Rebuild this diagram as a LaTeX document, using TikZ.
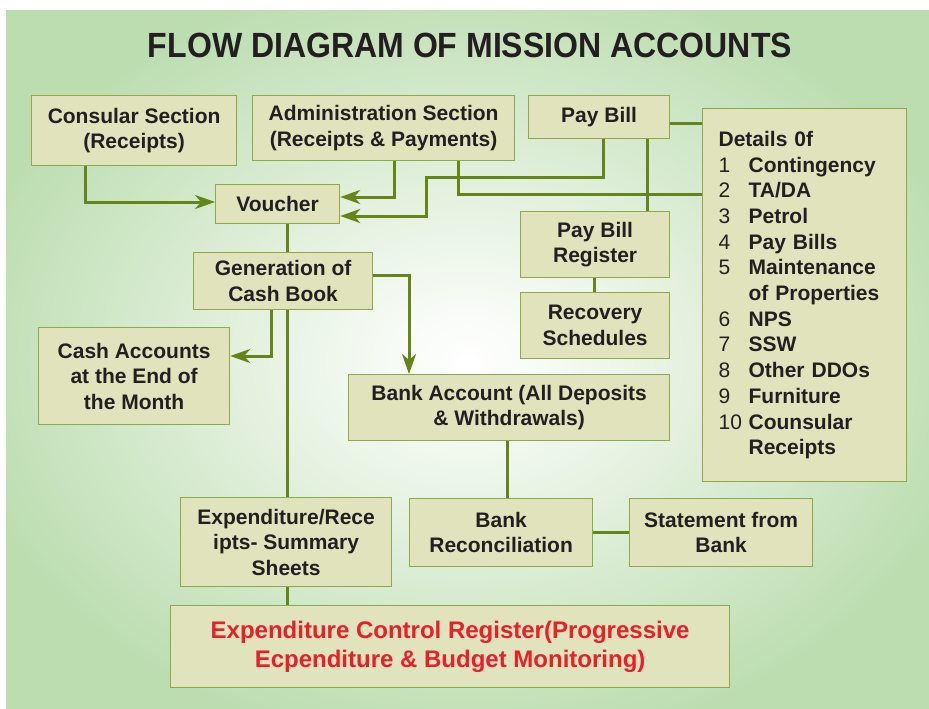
\documentclass[tikz,border=0pt]{standalone}
\usepackage{fontspec}
\setmainfont{Liberation Sans}
\usetikzlibrary{arrows.meta}
\definecolor{bggreen}{HTML}{BCDDB0}
\definecolor{boxfill}{HTML}{E1E3BC}
\definecolor{boxline}{HTML}{8FA84B}
\definecolor{conn}{HTML}{66841C}
\definecolor{txt}{HTML}{231F20}
\definecolor{redtxt}{HTML}{E8202A}
\pgfdeclareradialshading{bgglow}{\pgfpoint{0bp}{0bp}}{color(0bp)=(white); color(5bp)=(white!85!bggreen); color(28bp)=(bggreen); color(50bp)=(bggreen)}
\tikzset{
  box/.style={draw=boxline, line width=1.2pt, fill=boxfill, anchor=north west, align=center, inner sep=2pt,
    text=txt, font=\fontsize{21}{25.5}\selectfont\bfseries},
  link/.style={draw=conn, line width=3pt},
  arr/.style={link, -{Stealth[length=20pt,width=14pt,inset=6pt]}}
}
\begin{document}
\begin{tikzpicture}[x=1pt,y=-1pt]
\useasboundingbox (0,0) rectangle (929,709);
\fill[white] (0,0) rectangle (929,709);
\shade[shading=bgglow] (6,11) rectangle (929,709);
\node[text=txt, font=\fontsize{35}{40}\selectfont\bfseries] (title) at (470,45) {\scalebox{0.915}[1]{FLOW DIAGRAM OF MISSION ACCOUNTS}};
% boxes
\node[box, minimum width=205pt, minimum height=70pt] (cons) at (31,95) {Consular Section\\(Receipts)};
\node[box, minimum width=262pt, minimum height=65pt] (adm) at (252,95) {Administration Section\\(Receipts \& Payments)};
\node[box, minimum width=141pt, minimum height=43pt] (pay) at (528,95) {Pay Bill};
\node[box, minimum width=204pt, minimum height=373pt, align=left, text width=172pt, inner xsep=16pt, font=\fontsize{21}{25.7}\selectfont\bfseries] (det) at (702,108)
  {Details 0f\\
   \makebox[30pt][l]{\mdseries 1}Contingency\\
   \makebox[30pt][l]{\mdseries 2}TA/DA\\
   \makebox[30pt][l]{\mdseries 3}Petrol\\
   \makebox[30pt][l]{\mdseries 4}Pay Bills\\
   \makebox[30pt][l]{\mdseries 5}Maintenance\\
   \hspace*{30pt}of Properties\\
   \makebox[30pt][l]{\mdseries 6}NPS\\
   \makebox[30pt][l]{\mdseries 7}SSW\\
   \makebox[30pt][l]{\mdseries 8}Other DDOs\\
   \makebox[30pt][l]{\mdseries 9}Furniture\\
   \makebox[30pt][l]{\mdseries 10}Counsular\\
   \hspace*{30pt}Receipts\\[6pt]};
\node[box, minimum width=124pt, minimum height=39pt] (vouch) at (215,184) {Voucher};
\node[box, minimum width=179pt, minimum height=57pt] (gen) at (193,252) {Generation of\\Cash Book};
\node[box, minimum width=149pt, minimum height=66pt] (reg) at (520,211) {Pay Bill\\Register};
\node[box, minimum width=149pt, minimum height=66pt] (rec) at (520,292) {Recovery\\Schedules};
\node[box, minimum width=191pt, minimum height=97pt] (cash) at (38,327) {Cash Accounts\\at the End of\\the Month};
\node[box, minimum width=321pt, minimum height=66pt] (bank) at (348,374) {Bank Account (All Deposits\\\& Withdrawals)};
\node[box, minimum width=211pt, minimum height=89pt] (sum) at (180,497) {Expenditure/Rece\\ipts- Summary\\Sheets};
\node[box, minimum width=183pt, minimum height=68pt] (brec) at (409,498) {Bank\\Reconciliation};
\node[box, minimum width=183pt, minimum height=68pt] (stmt) at (629,498) {Statement from\\Bank};
\node[box, minimum width=559pt, minimum height=82pt, text=redtxt, font=\fontsize{24}{29}\selectfont\bfseries] (ctrl) at (170,605) {Expenditure Control Register(Progressive\\Ecpenditure \& Budget Monitoring)};
% connectors
\draw[arr] (cons.south -| 85,0) |- (vouch.west |- 0,202);
\draw[arr] (adm.south -| 394,0) |- (vouch.east |- 0,197);
\draw[arr] (pay.south -| 603,0) |- (426,177) |- (vouch.east |- 0,216);
\draw[link] (adm.south -| 458,0) |- (det.west |- 0,194);
\draw[link] (pay.south -| 647,0) -- (reg.north -| 647,0);
\draw[link] (pay.east |- 0,123) -- (det.west |- 0,123);
\draw[link] (reg.south -| 594,0) -- (rec.north -| 594,0);
\draw[link] (vouch.south -| 287,0) -- (gen.north -| 287,0);
\draw[arr] (gen.south -| 271,0) |- (cash.east |- 0,356);
\draw[link] (gen.south -| 287,0) -- (sum.north -| 287,0);
\draw[arr] (gen.east |- 0,275) -| (bank.north -| 409,0);
\draw[link] (bank.south -| 507,0) -- (brec.north -| 507,0);
\draw[link] (brec.east |- 0,532) -- (stmt.west |- 0,532);
\draw[link] (sum.south -| 287,0) -- (ctrl.north -| 287,0);
\end{tikzpicture}
\end{document}
